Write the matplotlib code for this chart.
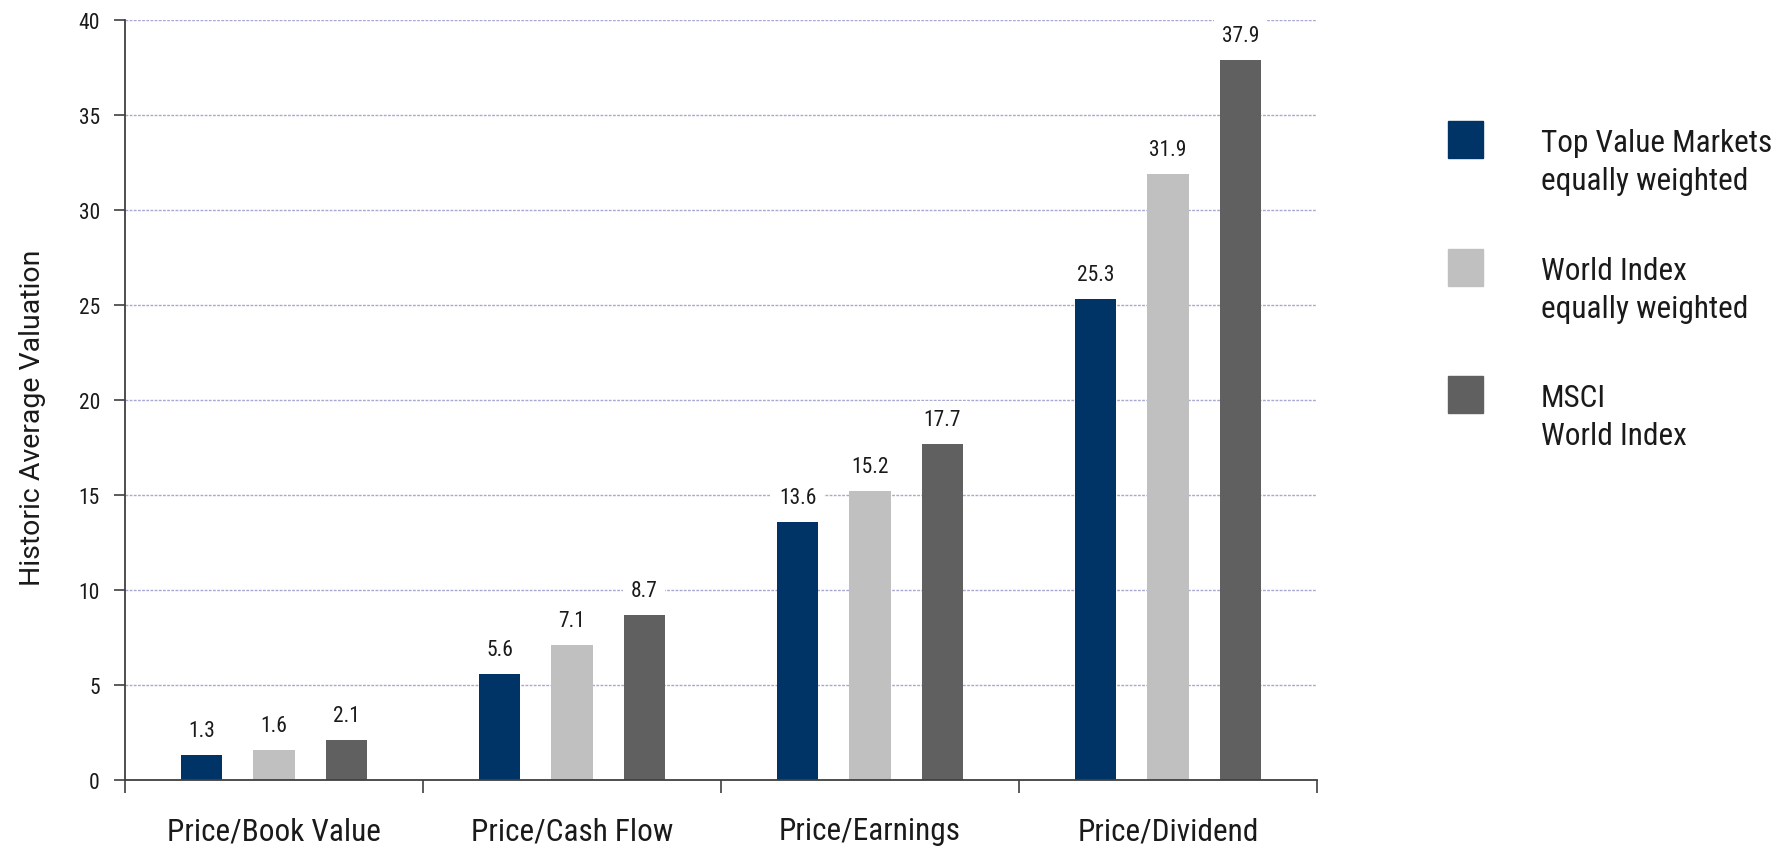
import numpy as np
import matplotlib.pyplot as plt
from matplotlib.patches import Rectangle

plt.rcParams['font.family'] = ['Roboto Condensed', 'Archivo Narrow', 'DejaVu Sans']

categories = ['Price/Book Value', 'Price/Cash Flow', 'Price/Earnings', 'Price/Dividend']
series_names = ['Top Value Markets\nequally weighted',
                'World Index\nequally weighted',
                'MSCI\nWorld Index']
top_value = [1.3, 5.6, 13.6, 25.3]
world_eq = [1.6, 7.1, 15.2, 31.9]
msci_world = [2.1, 8.7, 17.7, 37.9]
colors = ['#003366', '#c0c0c0', '#606060']

fig = plt.figure(figsize=(17.88, 8.53), dpi=100)
ax = fig.add_axes([0.0699, 0.0844, 0.6667, 0.891])

x = np.arange(len(categories))
offsets = [-0.243, 0.0, 0.243]
width = 0.138
for vals, off, c in zip([top_value, world_eq, msci_world], offsets, colors):
    bars = ax.bar(x + off, vals, width, color=c, zorder=2)
    for b, v in zip(bars, vals):
        ax.annotate(f'{v:.1f}', (b.get_x() + b.get_width() / 2, v),
                    xytext=(0, 10), textcoords='offset points',
                    ha='center', va='bottom', fontsize=15.5, color='#1a1a1a',
                    bbox=dict(boxstyle='square,pad=0.35', fc='white', ec='none'),
                    zorder=3)

ax.set_xlim(-0.5, len(categories) - 0.5)
ax.set_ylim(0, 40)
ax.set_yticks(np.arange(0, 41, 5))
ax.yaxis.grid(True, color='#a8a8d0', linestyle=(0, (2, 1)), linewidth=1, zorder=0)
ax.set_axisbelow(True)

ax.set_xticks(np.arange(-0.5, len(categories), 1))
ax.set_xticklabels([])
ax.set_xticks(x, minor=True)
ax.set_xticklabels(categories, minor=True, fontsize=22.5, color='#1a1a1a')
ax.tick_params(axis='x', which='minor', length=0, pad=26)
ax.tick_params(axis='x', which='major', length=9, width=1.2, color='#404040')
ax.tick_params(axis='y', length=8, width=1.2, color='#404040', labelsize=15.5,
               labelcolor='#1a1a1a', pad=10)

for s in ['top', 'right']:
    ax.spines[s].set_visible(False)
for s in ['left', 'bottom']:
    ax.spines[s].set_color('#404040')
    ax.spines[s].set_linewidth(1.3)

ax.set_ylabel('Historic Average Valuation', fontsize=20.5, color='#1a1a1a',
              family=['Roboto', 'DejaVu Sans'])
ax.yaxis.set_label_coords(-0.066, 0.478)

# legend drawn in figure pixel space
W, H = 1788, 853
for i, (name, c) in enumerate(zip(series_names, colors)):
    yc = 141 + i * 127.5
    fig.add_artist(Rectangle((1448 / W, 1 - (yc + 18) / H), 35 / W, 37 / H,
                             transform=fig.transFigure, color=c))
    fig.text(1541 / W, 1 - (yc - 12) / H, name, fontsize=22.5, color='#1a1a1a',
             ha='left', va='top', linespacing=1.4)

fig.savefig('out.png', dpi=100)
